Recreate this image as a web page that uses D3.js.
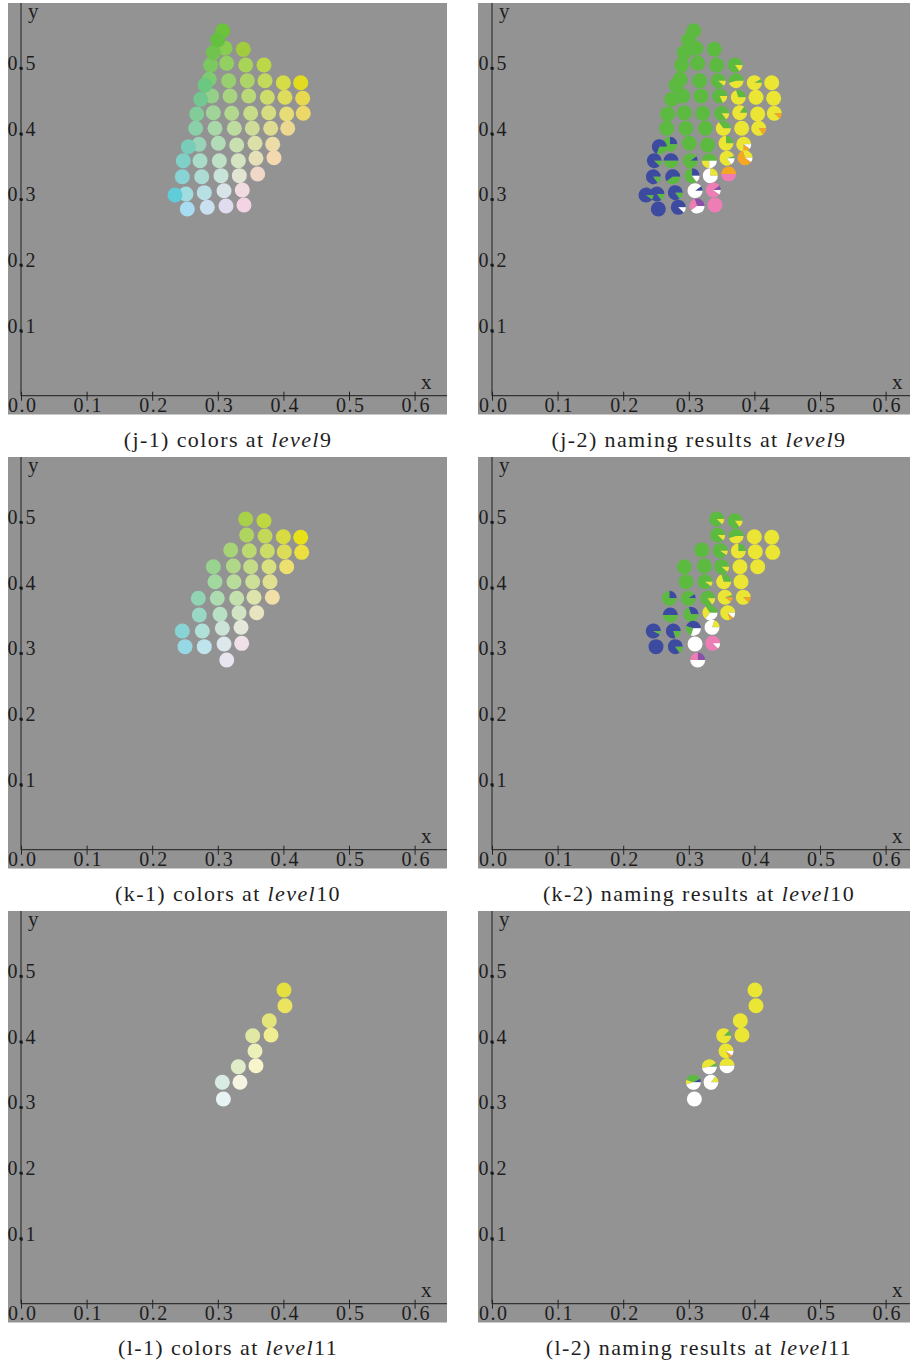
<!DOCTYPE html>
<html>
<head>
<meta charset="utf-8">
<script src="https://cdn.jsdelivr.net/npm/d3@7"></script>
<style>
  body { margin: 0; background: #fff; }
  svg { display: block; }
</style>
</head>
<body>
<svg id="chart" width="910" height="1364"></svg>
<script>
// naming categories, in the order the pies are drawn
const categories = ['B', 'G', 'Y', 'O', 'P', 'K', 'W']
const catColors = { B: '#3c4ba0', G: '#5dba40', Y: '#ebe534', O: '#f5a623', P: '#8a4fa6', K: '#ee7db6', W: '#ffffff' }

const xTicks = [0, 0.1, 0.2, 0.3, 0.4, 0.5, 0.6]
const yTicks = [0.1, 0.2, 0.3, 0.4, 0.5]

// level 9
const l9xy = [
  [0.3110, 0.5296], [0.3389, 0.5280],
  [0.2891, 0.5041], [0.3135, 0.5067], [0.3425, 0.5041], [0.3704, 0.5041],
  [0.2870, 0.4823], [0.3166, 0.4802], [0.3450, 0.4802], [0.3720, 0.4802], [0.3999, 0.4771], [0.4264, 0.4771],
  [0.2907, 0.4569], [0.3186, 0.4569], [0.3471, 0.4569], [0.3755, 0.4549], [0.4024, 0.4549], [0.4294, 0.4534],
  [0.2678, 0.4294], [0.2932, 0.4314], [0.3212, 0.4305], [0.3501, 0.4305], [0.3776, 0.4314], [0.4050, 0.4294], [0.4303, 0.4305],
  [0.2663, 0.4076], [0.2957, 0.4076], [0.3252, 0.4076], [0.3526, 0.4076], [0.3806, 0.4076], [0.4066, 0.4076],
  [0.2713, 0.3832], [0.3008, 0.3848], [0.3288, 0.3822], [0.3567, 0.3848], [0.3837, 0.3832],
  [0.2474, 0.3582], [0.2729, 0.3582], [0.3023, 0.3582], [0.3313, 0.3582], [0.3582, 0.3619], [0.3857, 0.3628],
  [0.2459, 0.3338], [0.2755, 0.3338], [0.3049, 0.3354], [0.3328, 0.3354], [0.3608, 0.3380],
  [0.2515, 0.3075], [0.2794, 0.3095], [0.3095, 0.3125], [0.3373, 0.3136],
  [0.2535, 0.2846], [0.2840, 0.2872], [0.3125, 0.2892], [0.3399, 0.2907],
  [0.2932, 0.5229], [0.2739, 0.4518], [0.2805, 0.4736], [0.2551, 0.3796], [0.2348, 0.3059],
  [0.3075, 0.5564], [0.2998, 0.5422]
]
const l9colors = [
  '#88cc50', '#a2cc3e',
  '#7cc860', '#92d062', '#a8d458', '#bcd848',
  '#7ecc70', '#98d070', '#aed468', '#c2da5c', '#d4dc48', '#e2dc20',
  '#94d088', '#a8d480', '#bad878', '#cedc6c', '#dedc5c', '#e8d850',
  '#82cc9a', '#a0d498', '#b2d890', '#c6dc88', '#d6dc80', '#e6dc78', '#ecd868',
  '#8ad0a8', '#a8d8a8', '#bedca0', '#cedc98', '#dedc90', '#ecd890',
  '#9ad4b8', '#b2dcb8', '#c8e0b0', '#dae0a8', '#ecdca8',
  '#80d0c8', '#a8dcc8', '#bee0c4', '#d4e4c0', '#e6e0b8', '#f4d8b0',
  '#88d4d4', '#acdcd4', '#c8e4d8', '#e0e4d0', '#f0d8c8',
  '#a0dce0', '#b8e0e4', '#d8e4e8', '#f0dce0',
  '#a8dcf0', '#c8e0f0', '#e0dcf0', '#f4d4e4',
  '#72c250', '#72c890', '#6cc880', '#78ccb8', '#60ccd8',
  '#6cc23a', '#66c040'
]
const l9names = [
  { G: 1 }, { G: 1 },
  { G: 1 }, { G: 1 }, { G: 1 }, { G: 0.85, Y: 0.15 },
  { G: 1 }, { G: 1 }, { G: 0.88, Y: 0.12 }, { G: 0.55, Y: 0.45 }, { G: 0.08, Y: 0.92 }, { Y: 1 },
  { G: 1 }, { G: 1 }, { G: 0.82, Y: 0.18 }, { G: 0.3, Y: 0.7 }, { Y: 1 }, { Y: 1 },
  { G: 1 }, { G: 1 }, { G: 1 }, { G: 0.85, Y: 0.15 }, { G: 0.15, Y: 0.85 }, { Y: 1 }, { Y: 0.88, O: 0.12 },
  { G: 1 }, { G: 1 }, { G: 1 }, { G: 0.35, Y: 0.65 }, { Y: 1 }, { Y: 0.85, O: 0.15 },
  { B: 0.25, G: 0.75 }, { G: 1 }, { G: 1 }, { G: 0.25, Y: 0.75 }, { Y: 0.75, O: 0.15, W: 0.1 },
  { B: 0.88, G: 0.12 }, { B: 0.5, G: 0.5 }, { B: 0.1, G: 0.9 }, { G: 0.5, Y: 0.25, W: 0.25 }, { G: 0.05, Y: 0.8, W: 0.15 }, { Y: 0.3, O: 0.6, W: 0.1 },
  { B: 0.85, G: 0.15 }, { B: 0.6, G: 0.4 }, { B: 0.25, G: 0.6, W: 0.15 }, { Y: 0.25, W: 0.75 }, { O: 0.5, K: 0.5 },
  { B: 0.85, G: 0.15 }, { B: 0.85, G: 0.15 }, { B: 0.1, W: 0.9 }, { P: 0.1, K: 0.8, W: 0.1 },
  { B: 1 }, { B: 0.88, W: 0.12 }, { P: 0.3, K: 0.3, W: 0.4 }, { K: 1 },
  { G: 1 }, { G: 1 }, { G: 1 }, { B: 0.7, G: 0.3 }, { B: 0.9, G: 0.1 },
  { G: 1 }, { G: 1 }
]

// level 10
const l10xy = [
  [0.3425, 0.5041], [0.3704, 0.5015],
  [0.3440, 0.4797], [0.3720, 0.4782], [0.3999, 0.4771], [0.4264, 0.4762],
  [0.3197, 0.4569], [0.3480, 0.4558], [0.3755, 0.4553], [0.4014, 0.4543], [0.4279, 0.4533],
  [0.2932, 0.4314], [0.3237, 0.4325], [0.3501, 0.4314], [0.3780, 0.4314], [0.4050, 0.4314],
  [0.2957, 0.4085], [0.3247, 0.4085], [0.3532, 0.4085], [0.3796, 0.4085],
  [0.2703, 0.3832], [0.2992, 0.3832], [0.3288, 0.3832], [0.3552, 0.3848], [0.3831, 0.3848],
  [0.2718, 0.3578], [0.3034, 0.3588], [0.3323, 0.3613], [0.3593, 0.3613],
  [0.2459, 0.3334], [0.2764, 0.3334], [0.3069, 0.3375], [0.3354, 0.3390],
  [0.2500, 0.3095], [0.2794, 0.3095], [0.3095, 0.3136], [0.3364, 0.3146],
  [0.3136, 0.2892]
]
const l10colors = [
  '#a8d048', '#c0d840',
  '#b0d460', '#c4d858', '#d8dc40', '#e8e018',
  '#a8d478', '#bcd870', '#ccdc68', '#dcdc58', '#ece040',
  '#98d490', '#b0d888', '#c4dc88', '#d8e080', '#ece070',
  '#a0d8a0', '#b8dc9c', '#cce098', '#e0e090',
  '#90d4b4', '#acdcb0', '#c4e0ac', '#dce4ac', '#f0e0a8',
  '#98d8c4', '#b8e0c4', '#d0e4c4', '#e8e4c0',
  '#88d4d4', '#b0e0d8', '#cce4d8', '#e4e8d8',
  '#98d8e4', '#c0e4ec', '#dce8ec', '#f0e0e8',
  '#e8e4f0'
]
const l10names = [
  { G: 0.88, Y: 0.12 }, { G: 0.85, Y: 0.15 },
  { G: 0.88, Y: 0.12 }, { G: 0.55, Y: 0.45 }, { Y: 1 }, { Y: 1 },
  { G: 1 }, { G: 0.9, Y: 0.1 }, { G: 0.25, Y: 0.75 }, { Y: 1 }, { Y: 1 },
  { G: 1 }, { G: 1 }, { G: 0.88, Y: 0.12 }, { Y: 1 }, { Y: 1 },
  { G: 1 }, { G: 0.9, Y: 0.1 }, { G: 0.3, Y: 0.7 }, { Y: 1 },
  { B: 0.25, G: 0.75 }, { B: 0.1, G: 0.9 }, { G: 0.85, Y: 0.15 }, { G: 0.05, Y: 0.85, O: 0.1 }, { Y: 0.88, O: 0.12 },
  { B: 0.5, G: 0.5 }, { B: 0.3, G: 0.7 }, { G: 0.35, Y: 0.3, W: 0.35 }, { Y: 0.8, O: 0.08, W: 0.12 },
  { B: 0.92, G: 0.08 }, { B: 0.8, G: 0.2 }, { B: 0.45, G: 0.25, W: 0.3 }, { Y: 0.2, W: 0.8 },
  { B: 1 }, { B: 0.85, G: 0.15 }, { W: 1 }, { K: 0.88, W: 0.12 },
  { P: 0.25, K: 0.25, W: 0.5 }
]

// level 11
const l11xy = [
  [0.4009, 0.4782], [0.4024, 0.4543], [0.3785, 0.4314], [0.3811, 0.4096],
  [0.3532, 0.4085], [0.3567, 0.3852], [0.3582, 0.3628], [0.3313, 0.3613],
  [0.3338, 0.3375], [0.3069, 0.3375], [0.3085, 0.3120]
]
const l11colors = [
  '#e4e040', '#ece460', '#e4e47c', '#f0ec90',
  '#e0e8a4', '#ecf0b8', '#f8f4cc', '#e0ecc8',
  '#f4f4e0', '#d8ece4', '#e8f4f4'
]
const l11names = [
  { Y: 1 }, { Y: 1 }, { Y: 1 }, { Y: 1 },
  { G: 0.12, Y: 0.88 }, { Y: 0.82, O: 0.08, W: 0.1 }, { Y: 0.5, W: 0.5 }, { G: 0.08, Y: 0.45, W: 0.47 },
  { Y: 0.15, W: 0.85 }, { B: 0.08, G: 0.37, Y: 0.1, W: 0.45 }, { W: 1 }
]

const rows = [
  { tag: 'j', level: 9, xy: l9xy, colors: l9colors, names: l9names },
  { tag: 'k', level: 10, xy: l10xy, colors: l10colors, names: l10names },
  { tag: 'l', level: 11, xy: l11xy, colors: l11colors, names: l11names }
]

const svg = d3.select('#chart')
const unit = 656          // pixels per 1.0 on both axes
const colX = [21, 492]    // x of the origin in each column
const rowY = [395.7, 849.7, 1303.7]
const radius = 7.5
const font = "'Liberation Serif', 'Times New Roman', serif"
const ink = '#1e1e1e'

const pie = d3.pie().sort(null).value(d => d[1])
  .startAngle(Math.PI / 2).endAngle(Math.PI / 2 - 2 * Math.PI)
const arc = d3.arc().innerRadius(0).outerRadius(radius)

function drawFrame(ox, oy, col) {
  const left = col === 0 ? ox - 13 : ox - 14
  const rightEdge = col === 0 ? 447 : 910
  const top = oy - 392.7
  const g = svg.append('g')
  g.append('rect')
    .attr('x', left).attr('y', top)
    .attr('width', rightEdge - left).attr('height', 411.5)
    .attr('fill', '#939394')

  const x = d3.scaleLinear().domain([0, 0.6]).range([ox, ox + 0.6 * unit])
  const y = d3.scaleLinear().domain([0, 0.5]).range([oy, oy - 0.5 * unit])

  // axis lines
  g.append('line').attr('x1', ox).attr('x2', rightEdge).attr('y1', oy).attr('y2', oy)
    .attr('stroke', '#333').attr('stroke-width', 1.2)
  g.append('line').attr('x1', ox).attr('x2', ox).attr('y1', top).attr('y2', oy)
    .attr('stroke', '#333').attr('stroke-width', 1.2)

  const xAxis = g.append('g')
    .attr('transform', `translate(0,${oy})`)
    .call(d3.axisBottom(x).tickValues(xTicks).tickSize(0).tickFormat(d3.format('.1f')))
  xAxis.select('.domain').remove()
  xAxis.selectAll('.tick line').attr('y1', -4).attr('y2', 5).attr('stroke', '#222')
  xAxis.selectAll('.tick text')
    .attr('text-anchor', 'start').attr('x', -13.5).attr('y', 16).attr('dy', null)
    .attr('font-family', font).attr('font-size', 20).attr('letter-spacing', 1.5).attr('fill', ink)

  const yAxis = g.append('g')
    .attr('transform', `translate(${ox},0)`)
    .call(d3.axisLeft(y).tickValues(yTicks).tickSize(0).tickFormat(d3.format('.1f')))
  yAxis.select('.domain').remove()
  yAxis.selectAll('.tick line').attr('x1', -1.5).attr('x2', 1.5).attr('stroke', '#111').attr('stroke-width', 2.5)
  yAxis.selectAll('.tick text')
    .attr('text-anchor', 'start').attr('x', -13.5).attr('y', 2).attr('dy', null)
    .attr('font-family', font).attr('font-size', 20).attr('letter-spacing', 1.5).attr('fill', ink)

  g.append('text').attr('x', ox + 7).attr('y', top + 15)
    .attr('font-family', font).attr('font-size', 21).attr('fill', ink).text('y')
  g.append('text').attr('x', ox + 400).attr('y', oy - 6.5)
    .attr('font-family', font).attr('font-size', 21).attr('fill', ink).text('x')

  return { g, x, y }
}

function caption(cx, baseline, head, level) {
  const t = svg.append('text')
    .attr('x', cx).attr('y', baseline).attr('text-anchor', 'middle')
    .attr('font-family', font).attr('font-size', 22).attr('letter-spacing', 1.4).attr('fill', ink)
  t.append('tspan').text(head)
  t.append('tspan').attr('font-style', 'italic').text('level')
  t.append('tspan').text(level)
}

rows.forEach((row, r) => {
  const oy = rowY[r]

  // colors panel
  const left = drawFrame(colX[0], oy, 0)
  left.g.append('g').selectAll('circle')
    .data(row.xy)
    .join('circle')
    .attr('cx', d => left.x(d[0]))
    .attr('cy', d => left.y(d[1]))
    .attr('r', radius)
    .attr('fill', (d, i) => row.colors[i])
  caption(colX[0] + 207, oy + 51, `(${row.tag}-1) colors at `, row.level)

  // naming results panel
  const right = drawFrame(colX[1], oy, 1)
  const pies = right.g.append('g').selectAll('g')
    .data(row.xy.map((d, i) => ({ p: d, parts: categories.filter(c => row.names[i][c]).map(c => [c, row.names[i][c]]) })))
    .join('g')
    .attr('transform', d => `translate(${right.x(d.p[0])},${right.y(d.p[1])})`)
  pies.selectAll('path')
    .data(d => pie(d.parts))
    .join('path')
    .attr('d', arc)
    .attr('fill', d => catColors[d.data[0]])
  caption(colX[1] + 207, oy + 51, `(${row.tag}-2) naming results at `, row.level)
})
</script>
</body>
</html>
